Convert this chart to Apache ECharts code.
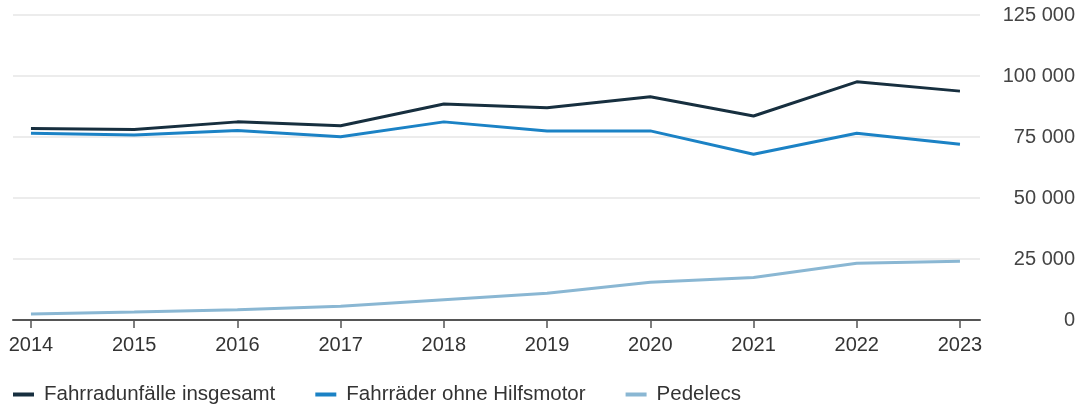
<!DOCTYPE html>
<html>
    <head>
        <meta charset="utf-8">
        <title>Fahrradunfälle</title>
        <script src="https://cdn.jsdelivr.net/npm/echarts@6/dist/echarts.min.js"></script>
        <style>
            html, body { margin: 0; padding: 0; background: #fff; }
            #chart1 { width: 1091px; height: 404px; }
        </style>
    </head>
    <body>
        <div id="chart1"></div>
    </body>

    <script type="text/javascript">
        // Daten
        var years = [2014, 2015, 2016, 2017, 2018, 2019, 2020, 2021, 2022, 2023];
        var insgesamt = [78500, 78100, 81200, 79600, 88500, 87000, 91500, 83600, 97600, 93800];
        var ohneHilfsmotor = [76500, 75800, 77700, 75100, 81200, 77500, 77500, 67900, 76500, 72000];
        var pedelecs = [2500, 3300, 4200, 5600, 8300, 11000, 15500, 17400, 23300, 24100];
        var seriesNames = ['Fahrradunfälle insgesamt', 'Fahrräder ohne Hilfsmotor', 'Pedelecs'];
        var seriesColors = ['#172f3f', '#1b82c5', '#8ab7d3'];

        var font = '"Liberation Sans", Arial, sans-serif';

        function pairs(vals) {
            return vals.map(function (v, i) { return [years[i], v]; });
        }

        var myChart1 = echarts.init(document.getElementById('chart1'));

        myChart1.setOption({
            animation: false,
            textStyle: { fontFamily: font },
            grid: { left: 13, right: 111, top: 15, bottom: 84 },
            legend: {
                left: 13,
                top: 384,
                padding: 0,
                icon: 'rect',
                itemWidth: 21,
                itemHeight: 4,
                itemGap: 40,
                textStyle: { fontFamily: font, fontSize: 20.5, color: '#333', padding: [0, 0, 0, 5] },
                data: seriesNames
            },
            xAxis: {
                type: 'value',
                min: 2013.826,
                max: 2023.194,
                splitLine: { show: false },
                axisLine: { show: true, lineStyle: { color: '#555', width: 2 } },
                axisTick: {
                    show: true,
                    length: 8,
                    customValues: years,
                    lineStyle: { color: '#555', width: 1.5 }
                },
                axisLabel: {
                    customValues: years,
                    margin: 15,
                    fontSize: 20,
                    color: '#333',
                    fontFamily: font,
                    formatter: function (v) { return String(v); }
                }
            },
            yAxis: {
                type: 'value',
                position: 'right',
                min: 0,
                max: 125000,
                interval: 25000,
                axisLine: { show: false },
                axisTick: { show: false },
                splitLine: { lineStyle: { color: '#e6e6e6', width: 1.5 } },
                axisLabel: {
                    align: 'right',
                    margin: 95,
                    fontSize: 20,
                    color: '#444',
                    fontFamily: font,
                    padding: [3, 0, 0, 0],
                    formatter: function (v) {
                        return String(v).replace(/\B(?=(\d{3})+(?!\d))/g, ' ');
                    }
                }
            },
            series: [
                { name: seriesNames[0], type: 'line', data: pairs(insgesamt), symbol: 'none', lineStyle: { width: 3, color: seriesColors[0] }, itemStyle: { color: seriesColors[0] } },
                { name: seriesNames[1], type: 'line', data: pairs(ohneHilfsmotor), symbol: 'none', lineStyle: { width: 3, color: seriesColors[1] }, itemStyle: { color: seriesColors[1] } },
                { name: seriesNames[2], type: 'line', data: pairs(pedelecs), symbol: 'none', lineStyle: { width: 3, color: seriesColors[2] }, itemStyle: { color: seriesColors[2] } }
            ]
        });
    </script>

</html>
